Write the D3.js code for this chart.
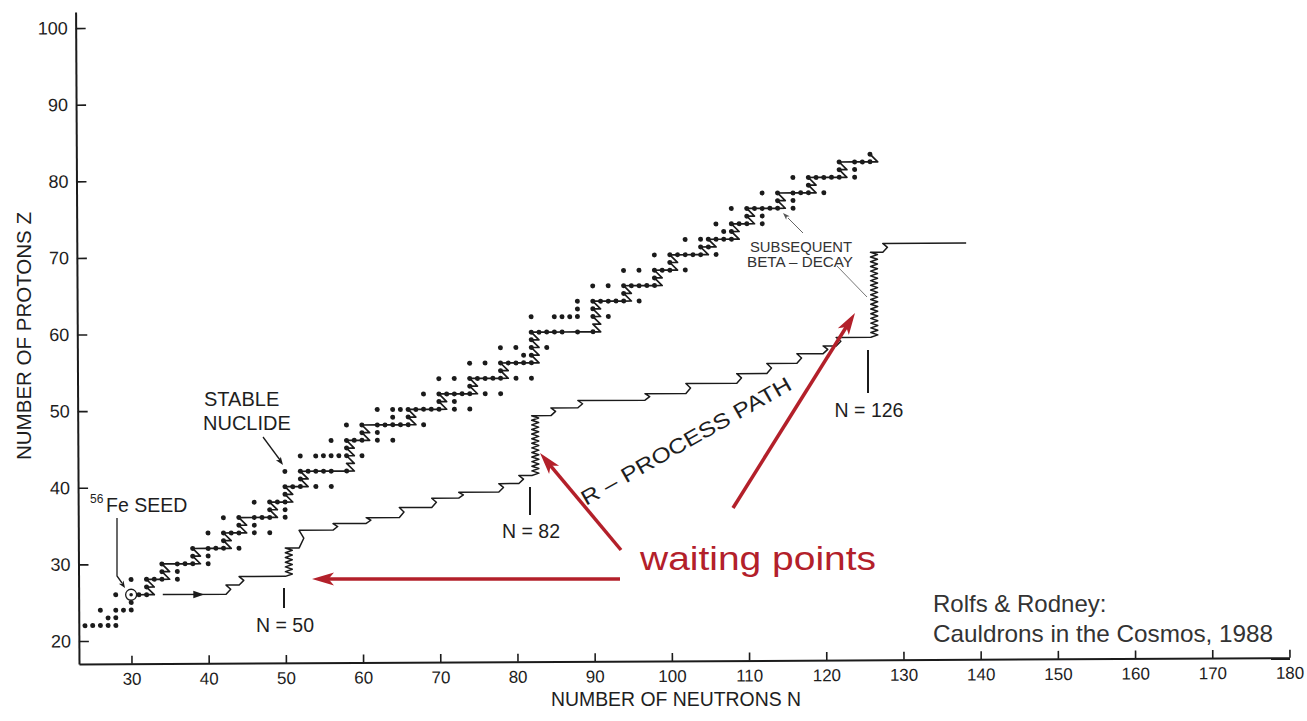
<!DOCTYPE html>
<html><head><meta charset="utf-8">
<script src="https://cdn.jsdelivr.net/npm/d3@7"></script>
<style>
body{margin:0;background:#fff}
svg{display:block}
text{font-family:"Liberation Sans",Arial,Helvetica,sans-serif}
</style></head>
<body>
<svg id="c" width="1307" height="721"></svg>
<script>
// ---------------- data ----------------
// stable nuclides: proton number and the neutron numbers of its stable isotopes
const stableZ = [22,23,24,25,26,27,28,29,30,31,32,33,34,35,36,37,38,39,40,41,42,44,45,46,47,48,49,50,51,52,53,54,55,56,57,58,59,60,62,63,64,65,66,67,68,69,70,71,72,73,74,75,76,77,78,79,80,81,82,83];
const stableN = [
  [24,25,26,27,28],[27,28],[26,28,29,30],[30],[28,30,31,32],[32],[30,32,33,34,36],[34,36],
  [34,36,37,38,40],[38,40],[38,40,41,42,44],[42],[40,42,43,44,46,48],[44,46],[42,44,46,47,48,50],
  [48,50],[46,48,49,50],[50],[50,51,52,54,56],[52],[50,52,53,54,55,56,58],[52,54,55,56,57,58,60],
  [58],[56,58,59,60,62,64],[60,62],[58,60,62,63,64,65,66,68],[64,66],[62,64,65,66,67,68,69,70,72,74],
  [70,72],[68,70,71,72,73,74,76,78],[74],[70,72,74,75,76,77,78,80,82],[78],[74,76,78,79,80,81,82],
  [81,82],[78,80,82,84],[82],[82,83,84,85,86,88,90],[82,85,86,87,88,90,92],[88,90],
  [88,90,91,92,93,94,96],[94],[90,92,94,95,96,97,98],[98],[94,96,98,99,100,102],[100],
  [98,100,101,102,103,104,106],[104,105],[102,104,105,106,107,108],[107,108],[106,108,109,110,112],
  [110,112],[108,110,111,112,113,114,116],[114,116],[112,114,116,117,118,120],[118],
  [116,118,119,120,121,122,124],[122,124],[122,124,125,126],[126]
];
const seedN = 30, seedZ = 26;          // 56Fe seed
const endN = 126, endZ = 83;           // 209Bi

// r-process path: start, level heights (Z) and where each level ends (N)
const rStartN = 34.1;
const rArrowN = 38.7;
const rLevelZ   = [26, 27.2, 28.3, 32.0, 34.3, 35.15, 35.9, 37.2, 38.4, 39.15, 40.25, 41.3,
                   49.1, 50.1, 51.05, 51.9, 53.2, 54.45, 55.75, 57.0, 58.0, 59.1, 70.2, 71.35];
const rLevelEnd = [42.3, 44.0, 50, 51.8, 56.2, 60.5, 64.8, 69, 72.5, 77.7, 80.3, 82,
                   84.5, 88, 96.7, 102, 108.6, 112.5, 116.4, 119.8, 121.5, 126, 127.6, 138.4];
const waitingN = [50, 82, 126];

const xTicks = [30,40,50,60,70,80,90,100,110,120,130,140,150,160,170,180];
const yTicks = [20,30,40,50,60,70,80,90,100];

// ---------------- chart ----------------
const svg = d3.select('#c');
const ink = '#1b1b1b', red = '#b3202a';
const x = d3.scaleLinear().domain([23.2, 180]).range([79, 1289.5]);
const y = d3.scaleLinear().domain([17, 102.1]).range([664, 12]);

const g = svg.append('g').attr('transform', 'rotate(-0.3 79 664)');

// axes
const xa = g.append('g').attr('transform', 'translate(0,664)')
  .call(d3.axisBottom(x).tickValues(xTicks).tickSize(-8).tickSizeOuter(0).tickPadding(9));
const ya = g.append('g').attr('transform', 'translate(79,0)')
  .call(d3.axisLeft(y).tickValues(yTicks).tickSize(-10).tickSizeOuter(0).tickPadding(8));
[xa, ya].forEach(a => {
  a.selectAll('path.domain').attr('stroke', ink).attr('stroke-width', 2);
  a.selectAll('.tick line').attr('stroke', ink).attr('stroke-width', 1.6);
  a.selectAll('.tick text').attr('fill', '#1e1e1e').style('font-family', '"Liberation Sans",Arial,sans-serif');
});
xa.selectAll('.tick text').attr('font-size', 17);
ya.selectAll('.tick text').attr('font-size', 18);

// stable nuclides
const stableSet = new Set();
const dots = [];
stableZ.forEach((z, i) => stableN[i].forEach(n => { stableSet.add(z + ',' + n); dots.push([n, z]); }));
const isStable = (z, n) => stableSet.has(z + ',' + n);

// s-type path through the valley of stability (neutron capture -> beta decay)
const sPts = [[seedN, seedZ]];
{
  let z = seedZ, n = seedN, guard = 0;
  while (!(z === endZ && n === endN) && guard++ < 1000) {
    if (isStable(z, n + 1)) { n += 1; sPts.push([n, z]); }
    else if (isStable(z, n + 2) && !isStable(z + 1, n)) { n += 2; sPts.push([n, z]); }
    else { sPts.push([n + 1, z]); z += 1; sPts.push([n, z]); }
  }
}
const line = d3.line().x(d => x(d[0])).y(d => y(d[1]));
g.append('path').attr('d', line(sPts)).attr('fill', 'none')
  .attr('stroke', ink).attr('stroke-width', 1.7).attr('stroke-linejoin', 'round');

g.selectAll('circle.dot').data(dots).join('circle').attr('class', 'dot')
  .attr('cx', d => x(d[0])).attr('cy', d => y(d[1])).attr('r', 2.5).attr('fill', ink);

// seed marker
g.append('circle').attr('cx', x(seedN)).attr('cy', y(seedZ)).attr('r', 5.5)
  .attr('fill', '#fff').attr('stroke', ink).attr('stroke-width', 1.3);
g.append('circle').attr('cx', x(seedN)).attr('cy', y(seedZ)).attr('r', 1.8).attr('fill', ink);

// r-process path
const rPts = [[rStartN, rLevelZ[0]]];
rLevelZ.forEach((z, i) => {
  const ne = rLevelEnd[i];
  rPts.push([ne, z]);
  if (i + 1 < rLevelZ.length) {
    const z2 = rLevelZ[i + 1];
    if (waitingN.includes(ne)) {
      const teeth = Math.round((z2 - z) / 0.62);
      for (let k = 1; k <= 2 * teeth; k++) {
        rPts.push([k % 2 ? ne + 0.9 : ne, z + (z2 - z) * k / (2 * teeth)]);
      }
    } else {
      rPts.push([ne + 0.6, z + (z2 - z) * 0.55]);
      rPts.push([ne, z2]);
    }
  }
});
g.append('path').attr('d', line(rPts)).attr('fill', 'none')
  .attr('stroke', ink).attr('stroke-width', 1.5).attr('stroke-linejoin', 'round');
{
  const ax = x(rArrowN), ay = y(rLevelZ[0]);
  g.append('path').attr('d', `M${ax+6},${ay} L${ax-5},${ay-3.8} L${ax-5},${ay+3.8} Z`).attr('fill', ink);
}

// ---------------- annotations ----------------
function arrowHead(parent, x1, y1, x2, y2, len, hw, color) {
  const a = Math.atan2(y2 - y1, x2 - x1), c = Math.cos(a), s = Math.sin(a);
  const bx = x2 - len * c, by = y2 - len * s;
  const nx = x2 - len * 0.75 * c, ny = y2 - len * 0.75 * s;
  parent.append('path')
    .attr('d', `M${x2},${y2} L${bx - hw * s},${by + hw * c} L${nx},${ny} L${bx + hw * s},${by - hw * c} Z`)
    .attr('fill', color);
}
const ann = svg.append('g');
function label(txt, px, py, size, opts = {}) {
  const t = ann.append('text').attr('x', px).attr('y', py).attr('font-size', size)
    .attr('fill', opts.fill || '#1e1e1e').attr('text-anchor', opts.anchor || 'start').text(txt);
  if (opts.len) t.attr('textLength', opts.len).attr('lengthAdjust', 'spacingAndGlyphs');
  if (opts.rot) t.attr('transform', `rotate(${opts.rot} ${px} ${py})`);
  return t;
}

// axis titles
label('NUMBER OF PROTONS Z', 31, 336, 19.5, {anchor: 'middle', rot: -90, len: 248});
label('NUMBER OF NEUTRONS N', 676, 706, 19.5, {anchor: 'middle', len: 250});

// stable nuclide
label('STABLE', 204, 406, 20);
label('NUCLIDE', 203, 430, 20);
ann.append('line').attr('x1', 263).attr('y1', 437).attr('x2', 280).attr('y2', 460)
  .attr('stroke', ink).attr('stroke-width', 1.3);
arrowHead(ann, 263, 437, 283, 465, 8, 3, ink);

// Fe seed
label('56', 90, 503, 12);
label('Fe SEED', 106, 512, 19.5);
ann.append('path').attr('d', 'M117,518 L117,576 L122,583').attr('fill', 'none')
  .attr('stroke', ink).attr('stroke-width', 1.3);
arrowHead(ann, 117, 576, 125, 588, 7, 2.8, ink);

// waiting point markers
[[284, 588, 608, 'N = 50', 632], [530, 487, 515, 'N = 82', 538], [868, 350, 393, 'N = 126', 417]]
  .forEach(([px, y1, y2, t, by]) => {
    ann.append('line').attr('x1', px).attr('x2', px).attr('y1', y1).attr('y2', y2)
      .attr('stroke', ink).attr('stroke-width', 2);
    label(t, px + 1, by, 19.5, {anchor: 'middle'});
  });

// subsequent beta decay
label('SUBSEQUENT', 750, 252, 14.5, {len: 102, fill: '#333'});
label('BETA – DECAY', 747, 267, 14.5, {len: 106, fill: '#333'});
ann.append('line').attr('x1', 803).attr('y1', 233).attr('x2', 788).attr('y2', 218)
  .attr('stroke', '#666').attr('stroke-width', 1);
arrowHead(ann, 803, 233, 783, 213, 7, 2.5, '#555');
ann.append('line').attr('x1', 837).attr('y1', 266).attr('x2', 867).attr('y2', 297)
  .attr('stroke', '#777').attr('stroke-width', 1);

// r-process path label
label('R – PROCESS PATH', 586, 506, 21, {rot: -29.5, len: 238});

// waiting points (red overlay)
label('waiting points', 640, 570, 34, {fill: red, len: 236});
[[620, 579, 312, 579], [621, 550, 540, 453], [733, 508, 855, 313]].forEach(([x1, y1, x2, y2]) => {
  const a = Math.atan2(y2 - y1, x2 - x1);
  ann.append('line').attr('x1', x1).attr('y1', y1)
    .attr('x2', x2 - 15 * Math.cos(a)).attr('y2', y2 - 15 * Math.sin(a))
    .attr('stroke', red).attr('stroke-width', 3.5);
  arrowHead(ann, x1, y1, x2, y2, 22, 6.5, red);
});

// source
label('Rolfs & Rodney:', 933, 612, 24, {fill: '#333'});
label('Cauldrons in the Cosmos, 1988', 933, 642, 24, {fill: '#333', len: 340});
</script>
</body></html>
